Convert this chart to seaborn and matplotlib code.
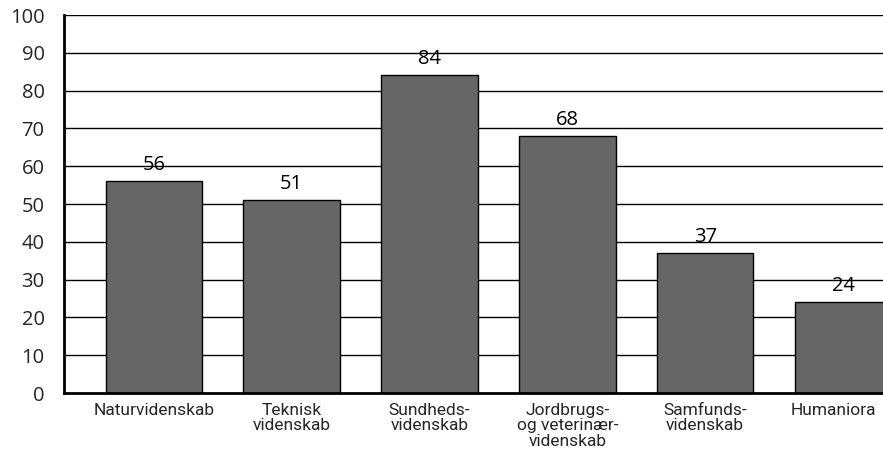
import matplotlib
matplotlib.use("Agg")
import matplotlib.pyplot as plt
import matplotlib.transforms as mtransforms
import seaborn as sns
import pandas as pd
from matplotlib import font_manager

categories = ["Naturvidenskab", "Teknisk\nvidenskab", "Sundheds-\nvidenskab",
              "Jordbrugs-\nog veterinær-\nvidenskab", "Samfunds-\nvidenskab", "Humaniora"]
values = [56, 51, 84, 68, 37, 24]
yticks = [0, 10, 20, 30, 40, 50, 60, 70, 80, 90, 100]

sns.set_theme(style="white")
names = {f.name for f in font_manager.fontManager.ttflist}
narrow = "Liberation Sans Narrow" if "Liberation Sans Narrow" in names else "Roboto"
plt.rcParams['font.family'] = ['Open Sans', 'DejaVu Sans']

df = pd.DataFrame({"cat": categories, "val": values})

fig = plt.figure(figsize=(8.83, 4.69), dpi=100)
ax = fig.add_axes([0.0725, 0.162, 0.9275, 0.806])
for y in yticks[1:]:
    ax.axhline(y, color="black", lw=1.0, zorder=0)
sns.barplot(data=df, x="cat", y="val", color="#666666", edgecolor="black",
            linewidth=1.0, width=0.7, saturation=1, ax=ax, zorder=2)
for i, v in enumerate(values):
    ax.annotate(str(v), (i, v), xytext=(0, 4.5), textcoords="offset points",
                ha="center", va="bottom", fontsize=14.5, color="black")
ax.set_ylim(0, 100)
ax.set_xlim(-0.652, 5.29)
ax.set_yticks(yticks)
ax.set_yticklabels([str(t) for t in yticks], fontsize=14.5)
ax.set_xlabel("")
ax.set_ylabel("")
ax.tick_params(axis="both", length=0)
ax.tick_params(axis="y", pad=14)
ax.tick_params(axis="x", pad=7)
xlabels = ax.get_xticklabels()
for lab in xlabels:
    lab.set_fontfamily([narrow, 'DejaVu Sans'])
    lab.set_fontsize(12.5)
    lab.set_linespacing(1.05)
shift = mtransforms.ScaledTranslation(-7 / 72, 0, fig.dpi_scale_trans)
xlabels[-1].set_transform(xlabels[-1].get_transform() + shift)
for s in ["top", "right"]:
    ax.spines[s].set_visible(False)
for s in ["left", "bottom"]:
    ax.spines[s].set_color("black")
    ax.spines[s].set_linewidth(2)
fig.savefig("out.png", dpi=100)
